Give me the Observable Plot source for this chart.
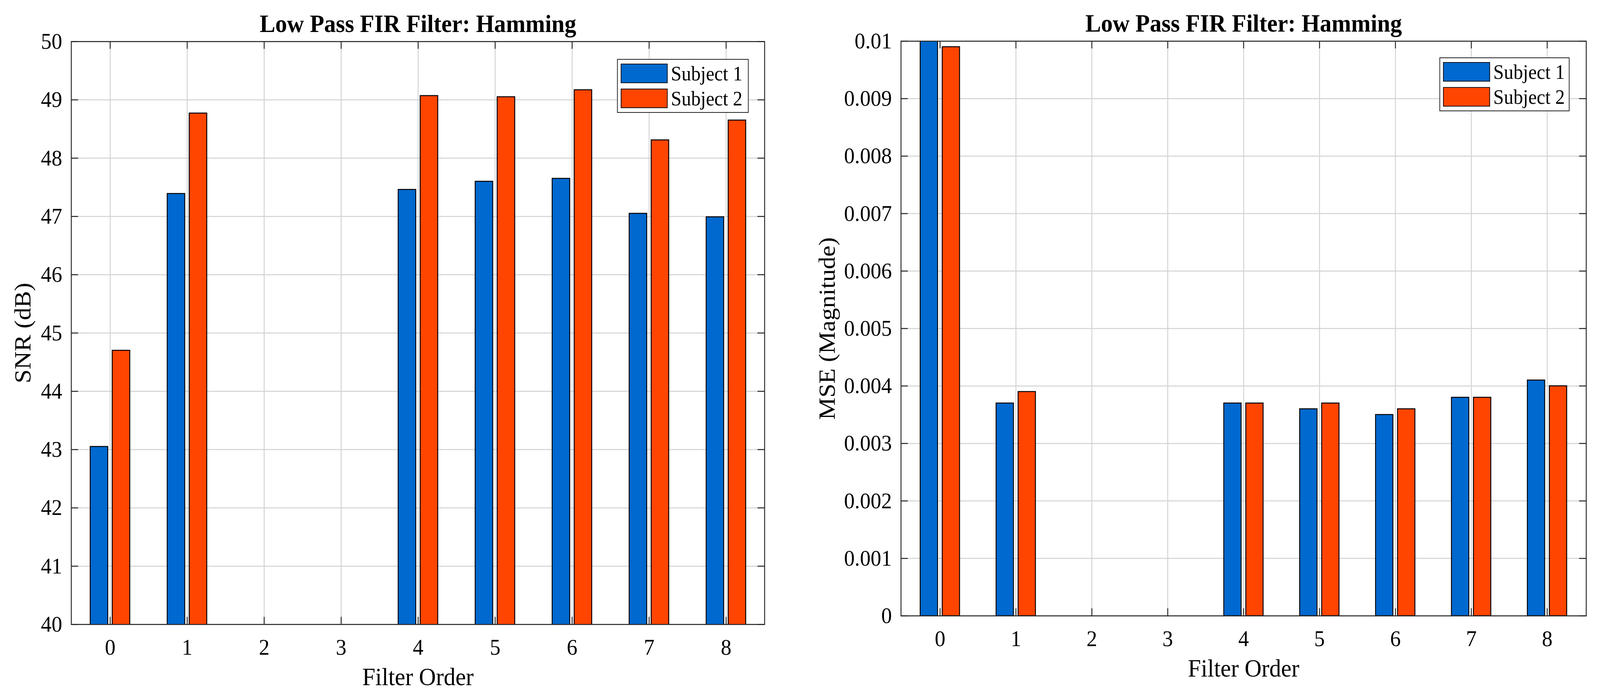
<!DOCTYPE html>
<html>
<head>
<meta charset="utf-8">
<script src="https://cdn.jsdelivr.net/npm/d3@7"></script>
<script src="https://cdn.jsdelivr.net/npm/@observablehq/plot@0.6"></script>
<style>
  html, body { margin: 0; padding: 0; background: #fff; overflow: hidden; }
  #page { position: relative; width: 4364px; height: 1793px; background: #fff; overflow: hidden; transform-origin: 0 0; }
  .legend { position: absolute; background: #fff; border: 2.5px solid #222; box-sizing: border-box;
            font-family: 'Liberation Serif', 'Times New Roman', serif; font-size: 52px; color: #000; }
  .legend .row { position: absolute; display: flex; align-items: center; }
  .legend .sw { box-sizing: border-box; border: 2.5px solid #111; margin-right: 9px; }
</style>
</head>
<body>
<div id="page"></div>
<script>
// ---------------- data ----------------
const orders = [0, 1, 2, 3, 4, 5, 6, 7, 8];
const subjects = ["Subject 1", "Subject 2"];
const colors = ["#0069CF", "#FF4500"];

const snrSubject1 = [43.05, 47.39, null, null, 47.46, 47.60, 47.65, 47.05, 46.99];
const snrSubject2 = [44.70, 48.77, null, null, 49.07, 49.05, 49.17, 48.31, 48.65];
const mseSubject1 = [0.0100, 0.0037, null, null, 0.0037, 0.0036, 0.0035, 0.0038, 0.0041];
const mseSubject2 = [0.0099, 0.0039, null, null, 0.0037, 0.0037, 0.0036, 0.0038, 0.0040];

const snrTicks = [40, 41, 42, 43, 44, 45, 46, 47, 48, 49, 50];
const mseTicks = [0, 0.001, 0.002, 0.003, 0.004, 0.005, 0.006, 0.007, 0.008, 0.009, 0.01];

const titleText = "Low Pass FIR Filter: Hamming";
const xLabel = "Filter Order";
const snrLabel = "SNR (dB)";
const mseLabel = "MSE (Magnitude)";

// ---------------- helpers ----------------
const FONT = "'Liberation Serif', 'Times New Roman', Times, serif";
const AXIS = "#262626";
const GRID = "#d2d2d2";
const PAGE_W = 4364, PAGE_H = 1793;

function rows(values) {
  return orders.map((o, i) => ({order: o, value: values[i]})).filter(d => d.value != null);
}

function chart(cfg) {
  const plotW = cfg.width - cfg.marginLeft - cfg.marginRight;
  const plotH = cfg.height - cfg.marginTop - cfg.marginBottom;
  const bw = plotW / orders.length;
  const barW = 48, gap = 6;
  const series = [cfg.s1, cfg.s2];
  const insets = [
    {insetLeft: bw / 2 - gap - barW, insetRight: bw / 2 + gap},
    {insetLeft: bw / 2 + gap, insetRight: bw / 2 - gap - barW}
  ];
  const tickLen = 19;
  return Plot.plot({
    width: cfg.width,
    height: cfg.height,
    marginLeft: cfg.marginLeft,
    marginRight: cfg.marginRight,
    marginTop: cfg.marginTop,
    marginBottom: cfg.marginBottom,
    style: {fontFamily: FONT, fontSize: "58px", color: "#000", background: "transparent", overflow: "visible", maxWidth: "none"},
    x: {type: "band", domain: orders, padding: 0, label: null},
    y: {domain: cfg.yDomain, label: null},
    marks: [
      Plot.gridY(cfg.yTicks, {stroke: GRID, strokeOpacity: 1, strokeWidth: 2.5}),
      Plot.ruleX(orders, {x: d => d, stroke: GRID, strokeOpacity: 1, strokeWidth: 2.5}),
      // inward ticks (MATLAB style, box on)
      Plot.ruleX(orders, {x: d => d, insetTop: plotH - tickLen, stroke: AXIS, strokeWidth: 2.5}),
      Plot.ruleX(orders, {x: d => d, insetBottom: plotH - tickLen, stroke: AXIS, strokeWidth: 2.5}),
      Plot.ruleY(cfg.yTicks, {y: d => d, insetRight: plotW - tickLen, stroke: AXIS, strokeWidth: 2.5}),
      Plot.ruleY(cfg.yTicks, {y: d => d, insetLeft: plotW - tickLen, stroke: AXIS, strokeWidth: 2.5}),
      ...series.map((s, k) => Plot.barY(rows(s), {
        x: "order", y: "value", fill: colors[k], stroke: "#000", strokeWidth: 2.5,
        clip: true, ...insets[k]
      })),
      Plot.frame({stroke: AXIS, strokeWidth: 2.5}),
      Plot.axisX({tickSize: 0, tickPadding: 36, fontSize: 58, label: null}),
      Plot.axisY(cfg.yTicks, {tickSize: 0, tickPadding: 25, fontSize: 58, label: null,
                              tickFormat: d3.format("~g")}),
      Plot.text([titleText], {frameAnchor: "top", lineAnchor: "bottom", dy: -25,
                              fontSize: 64, fontWeight: "bold"}),
      Plot.text([xLabel], {frameAnchor: "bottom", lineAnchor: "bottom", dy: 155, fontSize: 64}),
      Plot.text([cfg.yLabel], {frameAnchor: "left", rotate: -90, textAnchor: "middle",
                               lineAnchor: "middle", dx: cfg.yLabelDx, fontSize: 64})
    ]
  });
}

function legend(left, top, width) {
  const div = document.createElement("div");
  div.className = "legend";
  div.style.left = left + "px";
  div.style.top = top + "px";
  div.style.width = width + "px";
  div.style.height = "138px";
  subjects.forEach((s, k) => {
    const row = document.createElement("div");
    row.className = "row";
    row.style.left = "8px";
    row.style.top = (9 + k * 64) + "px";
    row.style.height = "52px";
    const sw = document.createElement("div");
    sw.className = "sw";
    sw.style.width = "128px";
    sw.style.height = "50px";
    sw.style.background = colors[k];
    const tx = document.createElement("span");
    tx.textContent = s;
    row.appendChild(sw);
    row.appendChild(tx);
    div.appendChild(row);
  });
  return div;
}

const page = document.getElementById("page");

const left = chart({
  width: 2180, height: 1793, marginLeft: 194, marginRight: 95, marginTop: 106, marginBottom: 194,
  yDomain: [40, 50], yTicks: snrTicks, s1: snrSubject1, s2: snrSubject2,
  yLabel: snrLabel, yLabelDx: -132
});
left.style.position = "absolute";
left.style.left = "0px";
left.style.top = "0px";
page.appendChild(left);

const right = chart({
  width: 2184, height: 1793, marginLeft: 277, marginRight: 38, marginTop: 105, marginBottom: 216,
  yDomain: [0, 0.01], yTicks: mseTicks, s1: mseSubject1, s2: mseSubject2,
  yLabel: mseLabel, yLabelDx: -201
});
right.style.position = "absolute";
right.style.left = "2180px";
right.style.top = "0px";
page.appendChild(right);

page.appendChild(legend(1683, 151, 359));
page.appendChild(legend(3926, 147, 355));

// fill the viewport with the fixed-size composition (no-op when the viewport is 4364x1793)
function fit() {
  const vw = window.innerWidth || document.documentElement.clientWidth;
  const vh = window.innerHeight || document.documentElement.clientHeight;
  const sx = vw / PAGE_W, sy = vh / PAGE_H;
  page.style.transform = (Math.abs(sx - 1) > 0.002 || Math.abs(sy - 1) > 0.002) ? `scale(${sx}, ${sy})` : "";
}
fit();
window.addEventListener("resize", fit);
</script>
</body>
</html>
